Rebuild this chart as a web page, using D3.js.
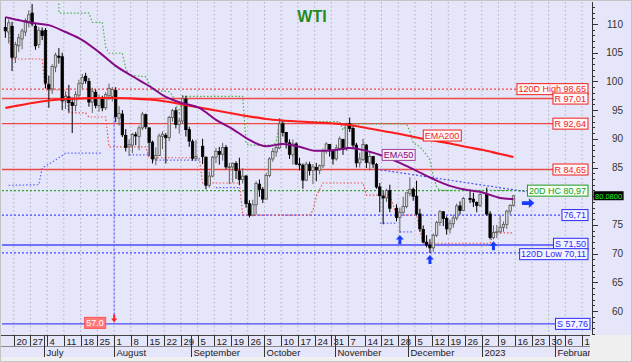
<!DOCTYPE html>
<html>
<head>
<meta charset="utf-8">
<script src="https://cdn.jsdelivr.net/npm/d3@7"></script>
<style>
  body { margin: 0; background: #fff; }
  svg { display: block; }
  text { font-family: "Liberation Sans", Arial, sans-serif; }
</style>
</head>
<body>
<svg id="chart"></svg>
<script>
// daily candles: date, open, high, low, close
const ohlc = [
  ["2022-06-15",109.4,111.2,107.6,108.8],["2022-06-16",108.6,110.8,106.6,110.2],["2022-06-17",109.6,110.4,101.8,104.2],
  ["2022-06-20",104.2,106.9,103.2,106.4],["2022-06-21",106.2,108.3,105.1,107.6],["2022-06-22",107.4,109.2,105.6,108.8],
  ["2022-06-23",108.6,111.0,107.9,110.6],["2022-06-24",110.2,112.4,109.4,111.6],["2022-06-27",111.9,113.5,109.6,110.0],
  ["2022-06-28",109.6,110.2,105.5,106.2],["2022-06-29",106.4,109.5,105.8,108.9],["2022-06-30",108.8,109.4,107.2,108.0],
  ["2022-07-01",108.9,109.3,98.8,99.7],["2022-07-04",99.5,101.0,95.4,98.7],["2022-07-05",98.7,103.0,97.8,102.6],
  ["2022-07-06",102.5,105.0,101.6,104.6],["2022-07-07",104.4,105.8,103.1,104.2],["2022-07-08",104.3,105.0,95.0,96.6],
  ["2022-07-11",96.6,98.2,95.2,97.4],["2022-07-12",97.3,99.4,94.6,96.3],["2022-07-13",96.3,97.2,91.0,95.8],
  ["2022-07-14",95.8,98.3,94.8,97.7],["2022-07-15",97.6,100.3,97.0,99.6],["2022-07-18",99.6,101.3,98.7,100.7],
  ["2022-07-19",100.9,101.5,99.6,100.1],["2022-07-20",100.0,100.6,95.6,96.4],["2022-07-21",96.4,98.9,94.5,98.3],
  ["2022-07-22",98.1,98.6,95.3,95.8],["2022-07-25",95.8,97.7,94.7,97.1],["2022-07-26",97.0,97.5,94.8,95.4],
  ["2022-07-27",95.4,98.1,95.0,97.7],["2022-07-28",97.5,99.6,96.8,98.8],["2022-07-29",97.4,99.0,96.5,98.6],
  ["2022-08-01",98.4,99.0,92.9,93.9],["2022-08-02",93.6,95.7,92.3,94.4],["2022-08-03",94.3,95.0,90.3,90.7],
  ["2022-08-04",90.6,91.7,87.8,88.5],["2022-08-05",88.7,89.9,87.0,89.0],["2022-08-08",88.9,91.0,87.5,90.8],
  ["2022-08-09",90.7,91.2,88.9,90.5],["2022-08-10",90.4,92.3,88.0,91.9],["2022-08-11",91.9,94.7,91.5,94.3],
  ["2022-08-12",94.2,94.4,91.7,92.1],["2022-08-15",91.9,92.0,87.0,89.4],["2022-08-16",89.4,89.7,85.7,86.5],
  ["2022-08-17",86.5,88.5,85.4,87.1],["2022-08-18",87.1,90.9,87.0,90.5],["2022-08-19",90.4,91.3,88.2,90.8],
  ["2022-08-22",90.6,91.0,85.7,90.2],["2022-08-23",90.2,94.0,89.6,93.7],["2022-08-24",93.7,95.2,93.0,94.9],
  ["2022-08-25",94.9,95.5,91.8,92.5],["2022-08-26",92.5,93.7,90.9,93.1],["2022-08-29",93.1,97.6,92.7,97.0],
  ["2022-08-30",96.9,97.5,90.4,91.6],["2022-08-31",91.6,92.1,88.6,89.6],["2022-09-01",89.5,89.9,86.2,86.6],
  ["2022-09-02",86.6,89.8,86.1,86.9],["2022-09-06",88.7,90.0,85.6,86.9],["2022-09-07",86.8,86.9,81.2,81.9],
  ["2022-09-08",81.9,84.3,81.5,83.5],["2022-09-09",83.5,87.0,83.3,86.8],["2022-09-12",86.8,88.4,85.8,87.8],
  ["2022-09-13",87.8,88.6,85.5,87.3],["2022-09-14",87.3,89.3,86.2,88.5],["2022-09-15",88.5,88.9,84.7,85.1],
  ["2022-09-16",85.1,85.8,82.1,85.1],["2022-09-19",85.1,85.9,82.4,85.7],["2022-09-20",85.7,86.1,83.0,84.5],
  ["2022-09-21",84.4,86.7,82.0,82.9],["2022-09-22",82.9,84.9,82.2,83.5],["2022-09-23",83.5,83.7,78.0,78.7],
  ["2022-09-26",78.7,79.3,76.3,76.7],["2022-09-27",76.7,79.4,76.5,78.5],["2022-09-28",78.5,82.6,76.8,82.2],
  ["2022-09-29",82.1,82.9,79.9,81.2],["2022-09-30",81.2,81.6,78.8,79.5],["2022-10-03",79.5,84.1,79.4,83.6],
  ["2022-10-04",83.6,86.8,83.3,86.5],["2022-10-05",86.5,88.4,86.0,87.8],["2022-10-06",87.7,88.9,86.9,88.5],
  ["2022-10-07",88.4,93.6,88.2,92.6],["2022-10-10",92.6,93.2,90.4,91.1],["2022-10-11",91.1,91.2,88.3,89.4],
  ["2022-10-12",89.3,89.9,86.5,87.3],["2022-10-13",87.2,89.9,85.5,89.1],["2022-10-14",89.1,89.4,85.4,85.6],
  ["2022-10-17",85.6,86.7,84.5,85.5],["2022-10-18",85.4,85.7,81.3,82.8],["2022-10-19",82.8,86.0,82.6,85.6],
  ["2022-10-20",85.5,86.0,83.6,84.5],["2022-10-21",84.5,85.6,82.1,85.1],["2022-10-24",85.0,85.8,82.6,84.6],
  ["2022-10-25",84.5,85.5,83.8,85.3],["2022-10-26",85.3,88.3,84.9,87.9],["2022-10-27",87.9,89.4,87.4,89.1],
  ["2022-10-28",89.0,89.1,86.9,87.9],["2022-10-31",87.9,88.2,85.5,86.5],["2022-11-01",86.5,89.0,86.2,88.4],
  ["2022-11-02",88.3,90.4,88.0,90.0],["2022-11-03",89.9,90.0,87.2,88.2],["2022-11-04",88.2,92.8,87.9,92.6],
  ["2022-11-07",92.6,93.7,91.2,91.8],["2022-11-08",91.8,92.2,88.4,88.9],["2022-11-09",88.9,89.3,85.0,85.8],
  ["2022-11-10",85.8,87.6,85.0,86.5],["2022-11-11",86.4,90.0,86.1,89.0],["2022-11-14",88.9,89.1,84.9,85.9],
  ["2022-11-15",85.8,87.9,84.5,86.9],["2022-11-16",86.9,87.0,84.9,85.6],["2022-11-17",85.5,85.8,81.3,81.6],
  ["2022-11-18",81.6,82.3,77.2,80.1],["2022-11-21",80.0,80.9,75.1,79.7],["2022-11-22",79.7,81.3,79.0,81.0],
  ["2022-11-23",81.0,82.0,77.2,77.9],["2022-11-25",77.9,78.6,75.6,76.3],["2022-11-28",76.3,78.0,73.6,77.2],
  ["2022-11-29",77.2,79.9,76.9,78.2],["2022-11-30",78.2,80.5,77.9,80.6],["2022-12-01",80.5,83.3,80.0,81.2],
  ["2022-12-02",81.2,81.5,79.2,80.0],["2022-12-05",80.0,82.7,76.6,76.9],["2022-12-06",76.9,77.8,73.8,74.3],
  ["2022-12-07",74.2,74.9,71.8,72.0],["2022-12-08",72.0,73.2,71.1,71.5],["2022-12-09",71.5,72.5,70.1,71.0],
  ["2022-12-12",71.0,73.5,70.3,73.2],["2022-12-13",73.2,75.7,72.9,75.4],["2022-12-14",75.4,77.6,74.8,77.3],
  ["2022-12-15",77.3,77.3,74.8,76.1],["2022-12-16",76.1,76.5,73.3,74.3],["2022-12-19",74.3,75.9,73.5,75.2],
  ["2022-12-20",75.2,76.8,74.5,76.2],["2022-12-21",76.2,78.7,75.8,78.3],["2022-12-22",78.3,79.1,76.8,77.5],
  ["2022-12-23",77.5,79.9,77.4,79.6],["2022-12-27",79.6,81.2,78.8,79.5],["2022-12-28",79.5,80.6,78.1,79.0],
  ["2022-12-29",78.9,79.1,77.2,78.4],["2022-12-30",78.4,80.5,78.1,80.3],["2023-01-03",80.3,81.5,76.6,76.9],
  ["2023-01-04",76.9,77.4,72.5,72.8],["2023-01-05",72.8,74.9,72.5,73.7],["2023-01-06",73.7,75.0,72.7,73.8],
  ["2023-01-09",73.8,76.7,73.5,74.6],["2023-01-10",74.6,75.6,73.8,75.1],["2023-01-11",75.1,77.6,74.3,77.4],
  ["2023-01-12",77.4,78.6,76.8,78.4],["2023-01-13",78.4,80.2,78.2,80.08]
];

const ema50 = [
  ["2022-06-15",111.2],["2022-06-20",110.8],["2022-06-27",110.2],["2022-07-04",109.8],["2022-07-11",108.6],
  ["2022-07-18",107.2],["2022-07-25",105.1],["2022-08-01",102.7],["2022-08-08",100.9],["2022-08-15",99.2],
  ["2022-08-22",97.3],["2022-08-29",96.2],["2022-09-05",95.4],["2022-09-12",93.3],["2022-09-19",91.7],
  ["2022-09-26",89.8],["2022-10-03",88.7],["2022-10-10",89.1],["2022-10-17",88.6],["2022-10-24",87.9],
  ["2022-10-31",88.0],["2022-11-07",88.4],["2022-11-14",87.9],["2022-11-21",87.0],["2022-11-28",85.8],
  ["2022-12-05",84.4],["2022-12-12",83.0],["2022-12-19",81.8],["2022-12-26",81.1],["2023-01-02",80.6],
  ["2023-01-09",79.7],["2023-01-13",79.5]
];

const ema200 = [
  ["2022-06-15",95.37],["2022-06-20",95.71],["2022-06-27",96.24],["2022-07-04",96.67],["2022-07-11",96.93],
  ["2022-07-18",97.06],["2022-07-25",97.11],["2022-08-01",97.11],["2022-08-08",97.02],["2022-08-15",96.85],
  ["2022-08-22",96.5],["2022-08-29",95.98],["2022-09-05",95.45],["2022-09-12",94.93],["2022-09-19",94.41],
  ["2022-09-26",93.89],["2022-10-03",93.45],["2022-10-10",93.19],["2022-10-17",93.01],["2022-10-24",92.84],
  ["2022-10-31",92.67],["2022-11-07",92.4],["2022-11-14",91.88],["2022-11-21",91.36],["2022-11-28",90.84],
  ["2022-12-05",90.23],["2022-12-12",89.7],["2022-12-19",89.18],["2022-12-26",88.57],["2023-01-02",88.05],
  ["2023-01-09",87.35],["2023-01-13",86.83]
];

// upper trailing line (20 day high)
const highTrail = [
  ["2022-07-07",116],["2022-07-07",111.9],["2022-07-20",111.9],["2022-07-21",110.3],["2022-07-26",110.3],
  ["2022-07-27",106.0],["2022-07-28",104.9],["2022-08-03",104.9],["2022-08-04",102.3],["2022-08-05",101.1],
  ["2022-08-12",100.8],["2022-08-16",98.5],["2022-08-23",98.2],["2022-08-24",97.6],["2022-08-26",94.5],
  ["2022-08-29",97.4],["2022-09-22",97.4],["2022-09-23",89.2],["2022-09-26",88.9],["2022-10-05",88.9],
  ["2022-10-06",89.4],["2022-10-07",93.0],["2022-11-02",93.0],["2022-11-03",91.5],["2022-11-04",92.6],
  ["2022-11-30",92.6],["2022-12-01",91.3],["2022-12-02",89.3],["2022-12-06",88.6],["2022-12-08",87.2],
  ["2022-12-09",86.3],["2022-12-12",83.5],["2022-12-13",81.6],["2022-12-14",81.0],["2023-01-13",81.0]
];

// lower trailing line (20 day low)
const lowTrail = [
  ["2022-06-15",109.0],["2022-06-16",109.0],["2022-06-17",103.9],["2022-06-30",103.9],["2022-07-01",98.5],
  ["2022-07-11",98.5],["2022-07-12",94.5],["2022-07-19",94.5],["2022-07-20",93.8],["2022-07-27",93.8],
  ["2022-07-28",88.6],["2022-08-12",88.6],["2022-08-15",86.7],["2022-09-05",86.7],["2022-09-06",82.3],
  ["2022-09-21",82.3],["2022-09-22",76.7],["2022-10-20",76.7],["2022-10-21",77.5],["2022-10-24",80.0],
  ["2022-10-26",82.3],["2022-11-11",82.3],["2022-11-14",80.2],["2022-11-23",80.2],["2022-11-25",76.7],
  ["2022-12-05",76.7],["2022-12-06",74.1],["2022-12-07",71.8],["2023-01-04",71.8],["2023-01-05",73.6],
  ["2023-01-13",73.6]
];

// lowest close steps
const closeSteps = [
  [["2022-06-16",81.9],["2022-06-29",82.0],["2022-06-30",84.9],["2022-07-06",86.3],["2022-07-11",87.5],["2022-07-26",87.5]],
  [["2022-08-05",87.2],["2022-08-15",87.2]],
  [["2022-08-16",86.3],["2022-09-05",86.3]],
  [["2022-09-12",81.5],["2022-09-21",81.5]],
  [["2022-11-18",75.3],["2022-11-25",75.3]],
  [["2022-11-28",73.8],["2022-12-02",73.8]]
];
const downTrend = [["2022-11-17",84.7],["2023-01-23",80.6]];

const resistances = [["R 97,01",97.01],["R 92,64",92.64],["R 84,65",84.65]];
const supports = [["S 71,50",71.50],["S 57,76",57.76]];
const high120 = ["120D High 98,65",98.65];
const low120 = ["120D Low 70,11",70.11];
const lowClose = ["76,71",76.71];
const highClose20 = ["20D HC 80,97",80.97];
const lastPrice = 80.08;
const target = ["2022-08-01",93.9,58.0,"57.0"];
const upSignals = [["2022-11-28",73.6],["2022-12-09",70.1],["2023-01-05",72.5]];
const rightSignal = ["2023-01-18",78.8];
const priceTicks = [60,65,70,75,80,85,90,95,100,105,110];
const priceLabels = [60,65,70,75,85,90,95,100,105,110];

// ---------- layout ----------
const W = 632, H = 362;
const plot = {left: 2, right: 592, top: 2, bottom: 335};
const lav = "#e6e6fa";

const svg = d3.select("#chart").attr("width", W).attr("height", H);

// weekday slots from first bar to the right edge
const fmt = d3.timeFormat("%Y-%m-%d");
const slots = d3.timeDay.range(new Date(2022,5,15), new Date(2023,1,18))
  .filter(d => d.getDay() > 0 && d.getDay() < 6);
const slotIndex = new Map(slots.map((d,i) => [fmt(d), i]));

const x = d3.scaleLinear().domain([0, 176]).range([3.7, 3.7 + 176*3.343]);
const cx = d => x(slotIndex.get(d) + 0.5);
const y = d3.scaleLinear().domain([60, 110]).range([311, 24]);

svg.append("rect").attr("width", W).attr("height", H).attr("fill", lav);
svg.append("rect").attr("x", 590).attr("y", plot.bottom).attr("width", W-590).attr("height", H-plot.bottom).attr("fill", "#f0f0f0");
svg.append("rect").attr("x", 0).attr("y", 357).attr("width", W).attr("height", 5).attr("fill", "#f0f0f0");

svg.append("defs").append("clipPath").attr("id", "plotclip")
  .append("rect").attr("x", plot.left).attr("y", plot.top)
  .attr("width", plot.right-plot.left).attr("height", plot.bottom-plot.top);

const g = svg.append("g").attr("clip-path", "url(#plotclip)");

// weekly grid
const mondays = slots.filter(d => d.getDay() === 1);
g.append("g").selectAll("line").data(mondays).join("line")
  .attr("x1", d => x(slotIndex.get(fmt(d)))).attr("x2", d => x(slotIndex.get(fmt(d))))
  .attr("y1", plot.top).attr("y2", plot.bottom)
  .attr("stroke", "#b0b0c0").attr("stroke-width", 1).attr("stroke-dasharray", "1.5,2.5");

const lineEnd = 588;
function hLine(v, color, dash, w) {
  g.append("line").attr("x1", plot.left).attr("x2", lineEnd)
    .attr("y1", y(v)).attr("y2", y(v))
    .attr("stroke", color).attr("stroke-width", w || 1.3)
    .attr("stroke-dasharray", dash || null);
}
hLine(high120[1], "#f04848", "2,2", 1.2);
resistances.forEach(r => hLine(r[1], "#f04848", null, 1.4));
hLine(highClose20[1], "#33a033", "2,2", 1.2);
hLine(lowClose[1], "#4a4aff", "2,2", 1.3);
supports.forEach(s => hLine(s[1], "#4a4aff", null, 1.4));
hLine(low120[1], "#4a4aff", "2,2", 1.3);

const path = d3.line().x(d => cx(d[0])).y(d => y(d[1]));

g.append("path").datum(highTrail).attr("d", path)
  .attr("fill", "none").attr("stroke", "#4cae4c").attr("stroke-width", 1.2).attr("stroke-dasharray", "1.5,2");
g.append("path").datum(lowTrail).attr("d", path)
  .attr("fill", "none").attr("stroke", "#f05050").attr("stroke-width", 1.2).attr("stroke-dasharray", "1.5,2");
closeSteps.forEach(seg => g.append("path").datum(seg).attr("d", path)
  .attr("fill", "none").attr("stroke", "#6060ff").attr("stroke-width", 1.2).attr("stroke-dasharray", "1.5,2"));
g.append("path").datum(downTrend).attr("d", path)
  .attr("fill", "none").attr("stroke", "#5050f0").attr("stroke-width", 1.2).attr("stroke-dasharray", "2,2");

// projection from August
g.append("line").attr("x1", cx(target[0]) - 1.5).attr("x2", cx(target[0]) - 1.5)
  .attr("y1", y(target[1])).attr("y2", y(target[2]) - 6)
  .attr("stroke", "#6a6aff").attr("stroke-width", 1.3).attr("stroke-dasharray", "2,2");

// candles
const candles = g.append("g").selectAll("g").data(ohlc).join("g");
candles.append("line")
  .attr("x1", d => cx(d[0])).attr("x2", d => cx(d[0]))
  .attr("y1", d => y(d[2])).attr("y2", d => y(d[3]))
  .attr("stroke", d => d[4] >= d[1] ? "#606060" : "#000").attr("stroke-width", 1);
candles.append("rect")
  .attr("x", d => cx(d[0]) - 1.2).attr("width", 2.4)
  .attr("y", d => y(Math.max(d[1], d[4])))
  .attr("height", d => Math.max(0.8, Math.abs(y(d[1]) - y(d[4]))))
  .attr("fill", d => d[4] >= d[1] ? "#d6d6d6" : "#000")
  .attr("stroke", d => d[4] >= d[1] ? "#575757" : "#000").attr("stroke-width", 0.8);

// moving averages
const smooth = d3.line().x(d => cx(d[0])).y(d => y(d[1])).curve(d3.curveMonotoneX);
g.append("path").datum(ema200).attr("d", smooth)
  .attr("fill", "none").attr("stroke", "#ff1c1c").attr("stroke-width", 2.2);
g.append("path").datum(ema50).attr("d", smooth)
  .attr("fill", "none").attr("stroke", "#860a86").attr("stroke-width", 2);

// signals
g.selectAll(".up").data(upSignals).join("path").attr("class", "up")
  .attr("transform", d => `translate(${cx(d[0])},${y(d[1]) + 2})`)
  .attr("d", "M0,0 L4,4.5 L1.5,4.5 L1.5,9 L-1.5,9 L-1.5,4.5 L-4,4.5 Z")
  .attr("fill", "#1a3cff");
g.append("path")
  .attr("transform", `translate(${x(slotIndex.get(rightSignal[0]))},${y(rightSignal[1])})`)
  .attr("d", "M0,-1.8 L7,-1.8 L7,-4.8 L12.5,0 L7,4.8 L7,1.8 L0,1.8 Z")
  .attr("fill", "#1a3cff");
g.append("path")
  .attr("transform", `translate(${cx(target[0]) - 1.5},${y(target[2])})`)
  .attr("d", "M0,0 L-3,-4 L-1,-4 L-1,-8 L1,-8 L1,-4 L3,-4 Z")
  .attr("fill", "#ff2020");

// labels
function tag(text, right, cy, color, fill, textColor) {
  const t = svg.append("text").attr("font-size", 9).attr("fill", textColor || color)
    .attr("y", cy + 3.2).text(text);
  const w = t.node().getComputedTextLength();
  t.attr("x", right - w - 2);
  svg.insert("rect", () => t.node())
    .attr("x", right - w - 3.5).attr("y", cy - 5.5).attr("width", w + 3.5).attr("height", 11)
    .attr("fill", fill).attr("stroke", color).attr("stroke-width", 1);
}
const red = "#f01e1e", blue = "#2a2aff", green = "#1f9a1f";
tag(high120[0], lineEnd, y(high120[1]), red, "#fff6f6");
resistances.forEach(r => tag(r[0], lineEnd, y(r[1]), red, "#fff6f6"));
tag(highClose20[0], lineEnd, y(highClose20[1]), green, "#f2fff2");
tag(lowClose[0], lineEnd, y(lowClose[1]), blue, "#f4f4ff");
tag(supports[0][0], lineEnd, y(supports[0][1]) - 1.2, blue, "#f4f4ff");
tag(low120[0], lineEnd, y(low120[1]) + 1.2, blue, "#f4f4ff");
tag(supports[1][0], 590, y(supports[1][1]), blue, "#f4f4ff");
tag(target[3], cx(target[0]) - 10, y(supports[1][1]) - 1, "#ff5050", "#ff7a7a", "#ffffff");

// EMA tags
(function () {
  const e2 = ema200.find(d => d[0] === "2022-12-12");
  const t2x = cx("2022-12-07");
  const t = svg.append("text").attr("font-size", 9).attr("fill", red).attr("y", y(e2[1]) - 2).text("EMA200");
  const w = t.node().getComputedTextLength();
  t.attr("x", t2x + 1.5);
  svg.insert("rect", () => t.node()).attr("x", t2x).attr("y", y(e2[1]) - 10.5)
    .attr("width", w + 3.5).attr("height", 11).attr("fill", "#fff6f6").attr("stroke", red);
  const e5 = ema50.find(d => d[0] === "2022-11-28");
  const t5x = cx("2022-11-21") - 1;
  const t5 = svg.append("text").attr("font-size", 9).attr("fill", "#800080").attr("y", y(e5[1]) - 5).text("EMA50");
  const w5 = t5.node().getComputedTextLength();
  t5.attr("x", t5x + 1.5);
  svg.insert("rect", () => t5.node()).attr("x", t5x).attr("y", y(e5[1]) - 13.5)
    .attr("width", w5 + 3.5).attr("height", 11).attr("fill", "#f5ecf5").attr("stroke", "#a040a0");
})();

// title
svg.append("text").attr("x", 312).attr("y", 22).attr("text-anchor", "middle")
  .attr("font-size", 16).attr("font-weight", "bold").attr("fill", "#1e8c1e").text("WTI");

// right price axis
const ax = svg.append("g");
ax.append("line").attr("x1", plot.right + 0.5).attr("x2", plot.right + 0.5)
  .attr("y1", plot.top).attr("y2", plot.bottom).attr("stroke", "#333");
ax.selectAll(".minor").data(d3.range(56, 114)).join("line")
  .attr("x1", plot.right).attr("x2", plot.right + 3)
  .attr("y1", d => Math.round(y(d)) + 0.5).attr("y2", d => Math.round(y(d)) + 0.5)
  .attr("stroke", "#333");
ax.selectAll(".major").data(priceTicks).join("line")
  .attr("x1", plot.right).attr("x2", plot.right + 6)
  .attr("y1", d => Math.round(y(d)) + 0.5).attr("y2", d => Math.round(y(d)) + 0.5)
  .attr("stroke", "#333");
ax.selectAll("text").data(priceLabels).join("text")
  .attr("x", 623).attr("y", d => y(d) + 3.5).attr("text-anchor", "end")
  .attr("font-size", 10).attr("fill", "#333").text(d => d);

// last price marker
(function () {
  const t = svg.append("text").attr("font-size", 7.5).attr("fill", "#20ff20")
    .attr("x", plot.right + 3).attr("y", y(lastPrice) + 2.8).text(lastPrice.toFixed(4));
  const w = t.node().getComputedTextLength();
  svg.insert("rect", () => t.node()).attr("x", plot.right + 1.5).attr("y", y(lastPrice) - 4.5)
    .attr("width", w + 3).attr("height", 9).attr("fill", "#000");
})();

// bottom date axis
const xa = svg.append("g");
xa.append("defs").append("clipPath").attr("id", "xclip")
  .append("rect").attr("x", 0).attr("y", plot.bottom).attr("width", 590).attr("height", 25);
const xg = xa.append("g").attr("clip-path", "url(#xclip)");
xg.append("line").attr("x1", 0).attr("x2", 590).attr("y1", plot.bottom + 0.5).attr("y2", plot.bottom + 0.5).attr("stroke", "#444");
xg.append("line").attr("x1", 0).attr("x2", 590).attr("y1", 346.5).attr("y2", 346.5).attr("stroke", "#888");

const monthStarts = slots.filter((d, i) => i > 0 && d.getMonth() !== slots[i-1].getMonth());
const monthName = d => d.getMonth() === 0 ? String(d.getFullYear()) : d3.timeFormat("%B")(d);
const sepX = d => Math.round(x(slotIndex.get(fmt(d)))) + 0.5;

xg.selectAll(".wk").data(mondays).join("line")
  .attr("x1", sepX).attr("x2", sepX).attr("y1", plot.bottom).attr("y2", 346)
  .attr("stroke", "#333");
xg.selectAll(".wkt").data(mondays).join("text")
  .attr("x", d => sepX(d) + 2).attr("y", 344.5)
  .attr("font-size", 9.5).attr("fill", "#222").text(d => d.getDate());
xg.selectAll(".mo").data(monthStarts).join("line")
  .attr("x1", sepX).attr("x2", sepX).attr("y1", plot.bottom).attr("y2", 357)
  .attr("stroke", "#333");
xg.selectAll(".mot").data(monthStarts).join("text")
  .attr("x", d => sepX(d) + 2).attr("y", 355.5)
  .attr("font-size", 9.5).attr("fill", "#222").text(monthName);

// frame
svg.append("rect").attr("x", 0.5).attr("y", 0.5).attr("width", W - 1).attr("height", H - 1)
  .attr("fill", "none").attr("stroke", "#c4c4c4");
</script>
</body>
</html>
